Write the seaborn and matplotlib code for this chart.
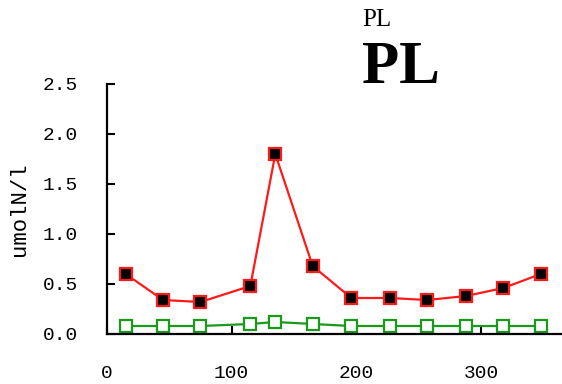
import matplotlib
matplotlib.use("Agg")
import matplotlib.pyplot as plt
import seaborn as sns
import pandas as pd

days = [15, 45, 75, 115, 135, 165, 196, 227, 257, 288, 318, 348]
red_vals = [0.60, 0.34, 0.32, 0.48, 1.80, 0.68, 0.36, 0.36, 0.34, 0.38, 0.46, 0.60]
green_vals = [0.08, 0.08, 0.08, 0.10, 0.12, 0.10, 0.08, 0.08, 0.08, 0.08, 0.08, 0.08]
x_ticks = [0, 100, 200, 300]
y_ticks = [0.0, 0.5, 1.0, 1.5, 2.0, 2.5]
y_label = "umolN/l"
title_small = "PL"
title_big = "PL"

sns.set_style("ticks")
plt.rcParams['font.family'] = ['Liberation Mono', 'DejaVu Sans']
plt.rcParams['xtick.direction'] = 'in'
plt.rcParams['ytick.direction'] = 'in'
plt.rcParams['text.color'] = 'black'
plt.rcParams['axes.labelcolor'] = 'black'
plt.rcParams['xtick.color'] = 'black'
plt.rcParams['ytick.color'] = 'black'

df_red = pd.DataFrame({"day": days, "val": red_vals})
df_green = pd.DataFrame({"day": days, "val": green_vals})

fig = plt.figure(figsize=(5.62, 3.84), dpi=100)
ax = fig.add_axes([107/562, 50/384, (562-107)/562, (334-84)/384])

sns.lineplot(data=df_green, x="day", y="val", ax=ax, color="#1a9a1a", lw=1.6,
             marker="s", markersize=8, markerfacecolor="white",
             markeredgecolor="#1a9a1a", markeredgewidth=1.6)
sns.lineplot(data=df_red, x="day", y="val", ax=ax, color="#ff1a1a", lw=1.6,
             marker="s", markersize=9, markerfacecolor="black",
             markeredgecolor="#ff1a1a", markeredgewidth=1.6)

ax.set_xlim(0, 365)
ax.set_ylim(0, 2.5)
ax.set_xticks(x_ticks)
ax.set_yticks(y_ticks)
ax.set_yticklabels([f"{v:.1f}" for v in y_ticks])
ax.tick_params(axis="both", direction="in", length=6, width=1.5, labelsize=14,
               colors="black")
ax.tick_params(axis="y", pad=21)
ax.tick_params(axis="x", pad=22)
for s in ["top", "right"]:
    ax.spines[s].set_visible(False)
for s in ["left", "bottom"]:
    ax.spines[s].set_linewidth(1.6)
    ax.spines[s].set_color("black")
ax.set_xlabel("")
ax.set_ylabel(y_label, fontsize=16, color="black")
ax.yaxis.set_label_coords((20 - 107) / 455, 0.5)
ax.yaxis.label.set_va("center")

fig.text(362/562, 1 - 26/384, title_small, fontsize=18, va="baseline", ha="left",
         family=['Liberation Serif'], color="black")
fig.text(362/562, 1 - 83/384, title_big, fontsize=44, va="baseline", ha="left",
         family=['Liberation Serif'], fontweight="bold", color="black")

fig.savefig("out.png", dpi=100, facecolor="white")
